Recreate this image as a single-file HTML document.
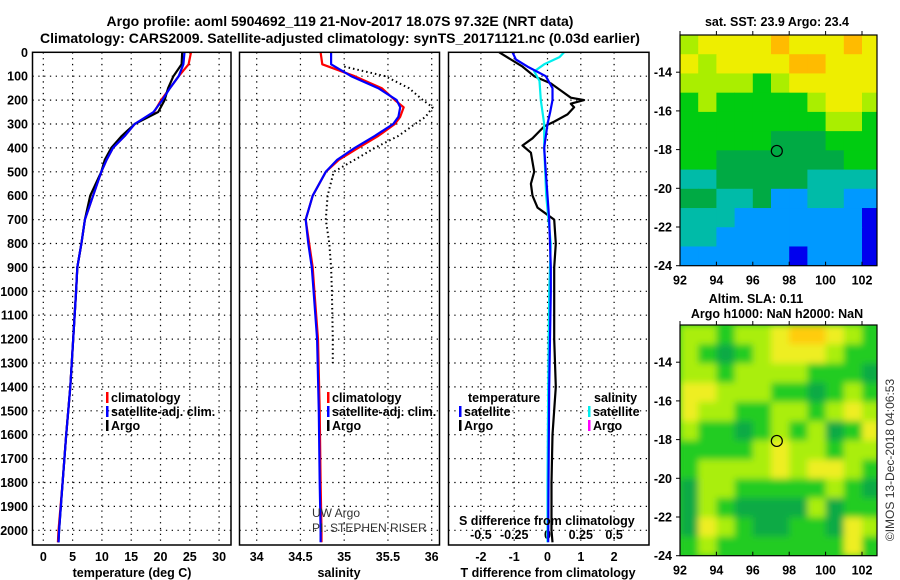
<!DOCTYPE html>
<html><head><meta charset="utf-8"><style>
html,body{margin:0;padding:0;background:#fff;}
svg{display:block;font-family:"Liberation Sans",sans-serif;}
.b{font-weight:bold;font-size:12.5px;fill:#000;}
.t{font-weight:bold;font-size:14px;fill:#000;}
.n{font-weight:normal;font-size:12px;fill:#333;}
</style></head><body>
<svg id="fig" width="900" height="580" viewBox="0 0 900 580" xmlns="http://www.w3.org/2000/svg">
<defs>
<filter id="blr" x="-10%" y="-10%" width="120%" height="120%"><feGaussianBlur stdDeviation="3.5"/></filter>
<clipPath id="cm2"><rect x="680" y="325" width="197" height="231"/></clipPath>
<clipPath id="cm1"><rect x="680" y="35" width="197" height="231"/></clipPath>
</defs>
<text class="t" x="340" y="26" text-anchor="middle">Argo profile: aoml 5904692_119 21-Nov-2017 18.07S 97.32E (NRT data)</text>
<text class="t" x="340" y="43" text-anchor="middle">Climatology: CARS2009. Satellite-adjusted climatology: synTS_20171121.nc (0.03d earlier)</text>
<g id="g"></g>
</svg>
<script>
// ---- profile data ----
const tDepth = [0,50,100,150,200,250,300,350,400,450,500,600,700,800,900,1000,1200,1400,1600,1800,2000,2050];
const tClim  = [25.2,24.8,23.1,21.6,20.1,18.9,15.6,13.9,11.9,10.8,9.9,8.5,7.1,6.5,5.8,5.6,5.1,4.6,3.9,3.3,2.6,2.5];
const tSat   = [24.1,23.9,23.1,21.6,20.3,18.8,15.6,13.9,11.9,10.8,9.9,8.5,7.1,6.5,5.8,5.6,5.1,4.6,3.9,3.3,2.7,2.6];
const tArgo  = [23.7,23.6,22.2,21.3,20.7,19.6,15.6,13.4,11.6,10.5,9.9,8.0,7.1,6.5,5.8,5.6,5.1,4.6,3.9,3.3,2.7,2.6];
const sDepth = [0,50,100,150,200,230,270,300,350,400,450,500,600,700,800,900,1000,1200,1500,1800,2000,2050];
const sClim  = [34.73,34.75,35.12,35.43,35.58,35.68,35.64,35.58,35.39,35.16,34.94,34.79,34.64,34.56,34.6,34.64,34.66,34.7,34.72,34.73,34.74,34.74];
const sSat   = [34.85,34.85,35.08,35.39,35.6,35.64,35.62,35.56,35.35,35.12,34.92,34.79,34.64,34.56,34.59,34.63,34.65,34.69,34.71,34.72,34.73,34.73];
const sArgoDepth = [60,100,150,200,230,270,300,350,400,450,500,600,700,800,900,1000,1200,1300];
const sArgo  = [35.0,35.47,35.74,35.9,36.01,35.93,35.81,35.62,35.35,35.12,34.88,34.81,34.79,34.83,34.85,34.86,34.87,34.87];
const dTArgoDepth = [0,30,60,100,130,160,190,200,215,230,260,290,310,360,390,420,500,550,600,650,680,700,800,900,1000,1200,1400,1600,1800,2000,2050];
const dTArgo = [-1.45,-1.1,-0.75,-0.4,0.1,0.4,0.7,1.1,0.7,0.8,0.6,0.2,-0.1,-0.45,-0.75,-0.5,-0.4,-0.5,-0.45,-0.3,0,0.2,0.25,0.2,0.2,0.2,0.25,0.15,0.12,0.12,0.15];
const dTSatDepth = [0,30,60,100,150,200,250,300,400,500,700,900,1000,1400,1800,2050];
const dTSat = [-1.05,-0.95,-0.6,-0.05,0.15,0.15,0.08,0,-0.1,-0.05,0.05,0.1,0.1,0.05,0.03,0.02];
const dSSatDepth = [0,20,50,80,120,200,300,400,600,800,1000,1400,1800,2050];
const dSSat = [0.125,0.09,-0.025,-0.1,-0.06,-0.05,-0.025,-0.025,-0.01,0.025,0.0125,0.005,0,0];
const depthTicks = [0,100,200,300,400,500,600,700,800,900,1000,1100,1200,1300,1400,1500,1600,1700,1800,1900,2000];
const tTicks = [0,5,10,15,20,25,30];
const sTicks = [34,34.5,35,35.5,36];
const dTTicks = [-2,-1,0,1,2];
const dSTicks = [-0.5,-0.25,0,0.25,0.5];
const dSTickLabels = ["-0.5","-0.25","0","0.25","0.5"];
// ---- map data (1-degree cells, rows from north to south) ----
const sstRows = [
[5,6,6,6,6,7,6,6,6,7,6],
[6,5,6,6,6,6,7,7,6,6,6],
[5,5,5,5,4,5,6,6,6,6,6],
[4,5,4,4,4,4,4,5,6,6,5],
[4,4,4,4,4,4,4,4,5,5,4],
[4,4,4,4,4,3,3,3,4,4,4],
[4,4,3,3,3,3,3,3,3,4,4],
[2,2,3,3,3,3,3,2,2,2,2],
[3,3,2,2,3,1,1,2,2,1,1],
[2,2,2,1,1,1,1,1,1,1,0],
[2,2,1,1,1,1,1,1,1,1,0],
[1,1,1,1,1,1,0,1,1,1,0]];
const slaRows = [
[3,3,2,3,3,4,5,5,4,3,2],
[3,2,1,2,3,4,4,4,3,2,2],
[3,3,2,3,3,3,3,2,2,2,1],
[4,4,3,3,3,2,2,1,2,3,2],
[4,3,3,2,2,3,3,2,3,4,3],
[3,2,2,1,2,3,2,3,1,2,4],
[2,2,2,2,3,4,3,3,2,3,3],
[2,3,3,3,3,4,3,4,4,3,2],
[1,3,3,2,2,2,2,2,3,2,1],
[1,3,2,1,1,1,1,3,1,2,2],
[1,4,3,2,1,1,2,2,1,4,3],
[2,3,2,2,2,2,2,2,2,4,2]];
const sstColors = ["#0000ee","#0099ff","#00bba8","#00aa44","#00cc11","#aaee00","#eeee00","#ffbb00"];
const slaColors = ["#22aa77","#11aa44","#22cc22","#aaee11","#eeee22","#ffcc11"];
const lonTicks = [92,94,96,98,100,102];
const latTicks = [-14,-16,-18,-20,-22,-24];
const argoLon = 97.32, argoLat = -18.07;

const NS="http://www.w3.org/2000/svg";
const G=document.getElementById('g');
function mk(tag,attrs,parent){const e=document.createElementNS(NS,tag);for(const k in attrs)e.setAttribute(k,attrs[k]);(parent||G).appendChild(e);return e;}
function txt(s,x,y,anchor,cls,parent){const e=mk('text',{x:x,y:y,'text-anchor':anchor||'start',class:cls||'b'},parent);e.textContent=s;return e;}

const TOP=52.3, PBOT=545;
const yD=d=>TOP+d*0.239;
const x1=t=>43.3+t*5.86;
const x2=s=>256.7+(s-34)*87.5;
const x3=t=>547.5+t*33.3;
const x3s=s=>547.5+s*133.2;
const panels=[[32.5,231],[239.5,439.5],[448.5,649]];

panels.forEach((p,i)=>{
  depthTicks.forEach(d=>{ if(d>0){const l=mk('line',{x1:p[0],x2:p[1],y1:yD(d),y2:yD(d),stroke:'#000','stroke-width':1.2,'stroke-dasharray':'1.3,4.5'});
    
    }});
});
tTicks.forEach(t=>{const l=mk('line',{x1:x1(t),x2:x1(t),y1:TOP,y2:PBOT,stroke:'#000','stroke-width':1.2,'stroke-dasharray':'1.3,4.5'});
  
  
  const tl=txt(String(t),x1(t),561,'middle');
  
  });
sTicks.forEach(s=>{const l=mk('line',{x1:x2(s),x2:x2(s),y1:TOP,y2:PBOT,stroke:'#000','stroke-width':1.2,'stroke-dasharray':'1.3,4.5'});
  
  
  const tl=txt(String(s),x2(s),561,'middle');
  
  });
dTTicks.forEach(t=>{const l=mk('line',{x1:x3(t),x2:x3(t),y1:TOP,y2:PBOT,stroke:'#000','stroke-width':1.2,'stroke-dasharray':'1.3,4.5'});
  
  
  const tl=txt(String(t),x3(t),561,'middle');
  
  });
dSTicks.forEach((s,i)=>{const tl=txt(dSTickLabels[i],x3s(s),539,'middle');
  
  });
depthTicks.forEach(d=>{const tl=txt(String(d),28,yD(d)+4.5,'end');
  
  });

function series(xs,ds,xf,color,name,dash){
  const pts=xs.map((v,i)=>xf(v).toFixed(1)+','+yD(ds[i]).toFixed(1)).join(' ');
  const a={points:pts,fill:'none',stroke:color,'stroke-width':dash?2:2.2,'stroke-linejoin':'round'};
  if(dash)a['stroke-dasharray']='1.5,3';
  const e=mk('polyline',a);
  
  
}
series(tClim,tDepth,x1,'#ff0000','temperature-climatology-line');
series(tArgo,tDepth,x1,'#000000','temperature-argo-line');
series(tSat,tDepth,x1,'#0000ff','temperature-satellite-line');
series(sArgo,sArgoDepth,x2,'#000000','salinity-argo-line',true);
series(sClim,sDepth,x2,'#ff0000','salinity-climatology-line');
series(sSat,sDepth,x2,'#0000ff','salinity-satellite-line');
series(dTArgo,dTArgoDepth,x3,'#000000','tdiff-argo-line');
series(dSSat,dSSatDepth,x3s,'#00eeee','sdiff-satellite-line');
series(dTSat,dTSatDepth,x3,'#0000ff','tdiff-satellite-line');

panels.forEach(p=>{const r=mk('rect',{x:p[0],y:TOP,width:p[1]-p[0],height:PBOT-TOP,fill:'none',stroke:'#000','stroke-width':1.5});
  
  });

function legend(x,y,color,label){
  const r=mk('rect',{x:x,y:y-10,width:2.5,height:11,fill:color});
  
  
  const t=txt(label,x+5,y);
  
  
}
legend(106,402,'#ff0000','climatology');
legend(106,416,'#0000ff','satellite-adj. clim.');
legend(106,430,'#000000','Argo');
legend(327,402,'#ff0000','climatology');
legend(327,416,'#0000ff','satellite-adj. clim.');
legend(327,430,'#000000','Argo');
let h=txt('temperature',468,402);
h=txt('salinity',594,402);
legend(459,416,'#0000ff','satellite');
legend(459,430,'#000000','Argo');
legend(588,416,'#00eeee','satellite');
legend(588,430,'#ff00ff','Argo');
h=txt('S difference from climatology',459,525);
h=txt('temperature (deg C)',132,577,'middle');
h=txt('salinity',339,577,'middle');
h=txt('T difference from climatology',548,577,'middle');
h=txt('UW Argo',312,517,'start','n');
h=txt('PI: STEPHEN RISER',312,532,'start','n');

function drawMap(rows,colors,top,bot,name,clip,blur){
  const L=680,R=877;
  const lx=lon=>L+(lon-92)*18.2;
  const ly=lat=>bot-(lat+24)*19.35;
  const bg=mk('rect',{x:L,y:top,width:R-L,height:bot-top,fill:colors[2]});
  
  
  const grp=mk('g',{'clip-path':'url(#'+clip+')'});
  const inner=blur?mk('g',{filter:'url(#blr)'},grp):grp;
  const nr=rows.length, ch=(bot-top)/nr;
  rows.forEach((row,ri)=>row.forEach((v,ci)=>{
    const c=mk('rect',{x:lx(92+ci),y:top+ri*ch,width:18.7,height:ch+0.5,fill:colors[v]},inner);
    
    
  }));
  const fr=mk('rect',{x:L,y:top,width:R-L,height:bot-top,fill:'none',stroke:'#000','stroke-width':1.2});
  
  
  lonTicks.forEach(lon=>{const t=txt(String(lon),lx(lon),bot+19,'middle');
    
    
    mk('line',{x1:lx(lon),x2:lx(lon),y1:bot,y2:bot-4,stroke:'#000'});
    mk('line',{x1:lx(lon),x2:lx(lon),y1:top,y2:top-4,stroke:'#000'});});
  latTicks.forEach(lat=>{const t=txt(String(lat),672,ly(lat)+4.5,'end');
    
    
    mk('line',{x1:L,x2:L-4,y1:ly(lat),y2:ly(lat),stroke:'#000'});});
  const m=mk('circle',{cx:lx(argoLon),cy:ly(argoLat),r:5.5,fill:'none',stroke:'#000','stroke-width':1.2});
  
  
}
drawMap(sstRows,sstColors,35,265.7,'sst-map','cm1',false);
drawMap(slaRows,slaColors,325,555.7,'sla-map','cm2',true);
h=txt('sat. SST: 23.9 Argo: 23.4',777,26,'middle');
h=txt('Altim. SLA: 0.11',756,303,'middle');
h=txt('Argo h1000: NaN h2000: NaN',777,318,'middle');
h=txt('©IMOS 13-Dec-2018 04:06:53',0,0,'middle','n');h.setAttribute('fill','#000');h.setAttribute('transform','translate(894,460) rotate(-90)');
</script>
</body></html>
